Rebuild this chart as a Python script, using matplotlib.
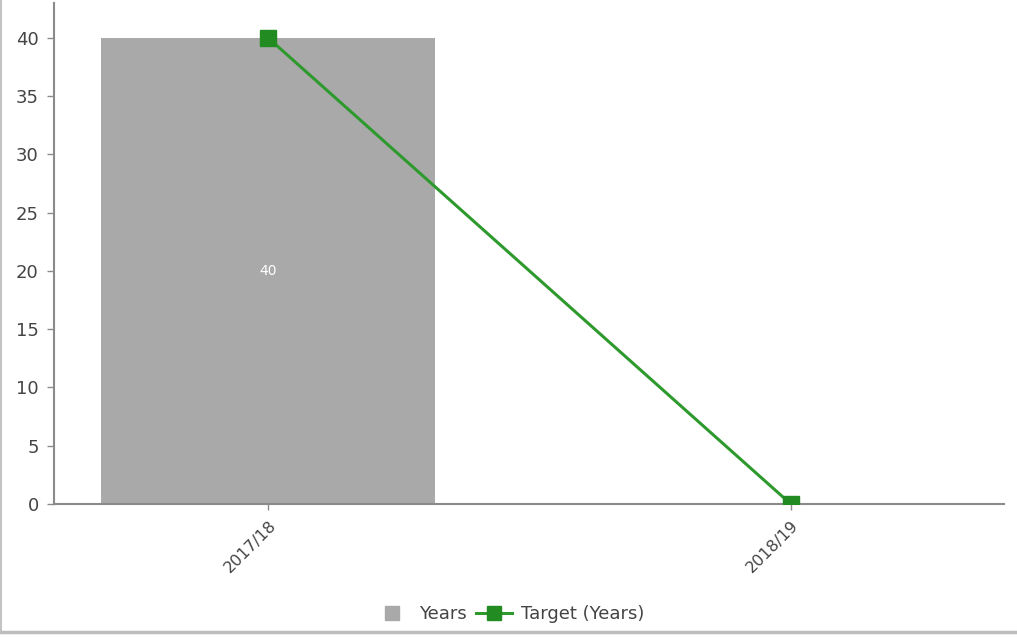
import matplotlib
matplotlib.use("Agg")
import matplotlib.pyplot as plt
from matplotlib.lines import Line2D

# ---- data ----
CATEGORIES = ["2017/18", "2018/19"]
YEARS = [40, None]          # bar series (only the first year has a bar)
TARGET = [40, 0]            # target line
BAR_LABELS = ["40"]

BAR_COLOR = "#a9a9a9"
LINE_COLOR = "#2e9a2e"
MARKER_COLOR = "#228b22"
TEXT_COLOR = "#444444"
AXIS_COLOR = "#8a8a8a"

plt.rcParams["font.family"] = ["DejaVu Sans"]

fig = plt.figure(figsize=(10.17, 6.37), dpi=100)
W, H = 1017, 637
ax = fig.add_axes([54 / W, (H - 504) / H, (1004 - 54) / W, (504 - 3) / H])

x = list(range(len(CATEGORIES)))
bar_x = [i for i, v in zip(x, YEARS) if v is not None]
bar_v = [v for v in YEARS if v is not None]
bars = ax.bar(bar_x, bar_v, width=0.64, color=BAR_COLOR, zorder=2)
for b, lab in zip(bars, BAR_LABELS):
    ax.text(b.get_x() + b.get_width() / 2, b.get_height() / 2, lab,
            ha="center", va="center", color="white", fontsize=10, zorder=3)

ax.plot(x, TARGET, "-s", color=LINE_COLOR, lw=2.2, markersize=12,
        markerfacecolor=MARKER_COLOR, markeredgecolor=MARKER_COLOR, zorder=4)

ax.set_xlim(-0.41, 1.408)
ax.set_ylim(0, 43.0)
ax.set_yticks(range(0, 45, 5))
ax.set_xticks(x)
ax.set_xticklabels(CATEGORIES, rotation=45, ha="right", va="top",
                   rotation_mode="anchor", fontsize=11.5)
ax.tick_params(axis="y", labelsize=13, colors=AXIS_COLOR, labelcolor=TEXT_COLOR,
               length=5, width=1, pad=6)
ax.tick_params(axis="x", colors=AXIS_COLOR, labelcolor=TEXT_COLOR,
               length=4, width=1, pad=6)

for s in ("top", "right"):
    ax.spines[s].set_visible(False)
for s in ("left", "bottom"):
    ax.spines[s].set_color(AXIS_COLOR)
    ax.spines[s].set_linewidth(1.5)

handles = [Line2D([], [], ls="none", marker="s", markersize=10,
                  markerfacecolor=BAR_COLOR, markeredgecolor=BAR_COLOR, label="Years"),
           Line2D([], [], color=LINE_COLOR, lw=2.2, marker="s", markersize=10,
                  markerfacecolor=MARKER_COLOR, markeredgecolor=MARKER_COLOR,
                  label="Target (Years)")]
fig.legend(handles=handles, loc="center", bbox_to_anchor=(509 / W, (H - 614) / H),
           ncol=2, frameon=False, fontsize=13, handlelength=2.0, handletextpad=0.5,
           columnspacing=0.5, labelcolor=TEXT_COLOR)

# outer frame lines (left and bottom edge of the widget)
fig.add_artist(Line2D([1 / W, 1 / W], [(H - 632) / H, 1], transform=fig.transFigure,
                      color="#c4c4c4", lw=1.5))
fig.add_artist(Line2D([0, 1015 / W], [(H - 632) / H, (H - 632) / H],
                      transform=fig.transFigure, color="#bdbdbd", lw=2.5))

fig.savefig("out.png", dpi=100)
